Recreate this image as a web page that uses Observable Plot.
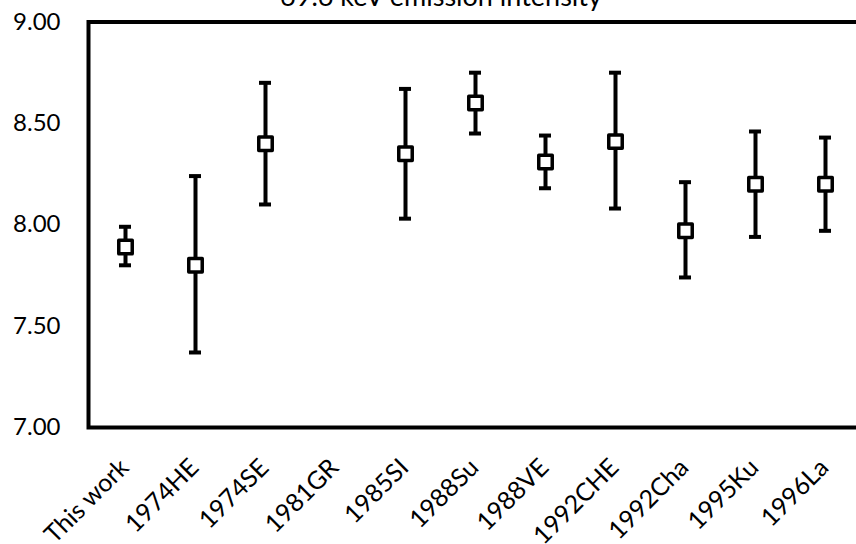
<!DOCTYPE html>
<html>
<head>
<meta charset="utf-8">
<script src="https://cdn.jsdelivr.net/npm/d3@7"></script>
<script src="https://cdn.jsdelivr.net/npm/@observablehq/plot@0.6"></script>
<style>
  html, body { margin: 0; padding: 0; background: #fff; overflow: hidden; }
  #wrap { position: relative; width: 856px; height: 544px; overflow: hidden; }
  #title {
    position: absolute; left: 241px; width: 400px; top: -21px;
    text-align: center; font-family: Lato, sans-serif; font-size: 27px; color: #000;
    white-space: nowrap;
  }
  #chart { position: absolute; left: 0; top: 0; }
  #chart svg { max-width: none !important; }
</style>
</head>
<body>
<div id="wrap">
  <div id="chart"></div>
  <div id="title">69.6 keV emission intensity</div>
</div>
<script>
// Measured 69.6 keV emission intensity by source, with uncertainty ranges
const sources = ["This work", "1974HE", "1974SE", "1981GR", "1985SI", "1988Su",
                 "1988VE", "1992CHE", "1992Cha", "1995Ku", "1996La"];
const intensity = [7.89, 7.80, 8.40, null, 8.35, 8.60, 8.31, 8.41, 7.97, 8.20, 8.20];
const lower     = [7.80, 7.37, 8.10, null, 8.03, 8.45, 8.18, 8.08, 7.74, 7.94, 7.97];
const upper     = [7.99, 8.24, 8.70, null, 8.67, 8.75, 8.44, 8.75, 8.21, 8.46, 8.43];
const yTicks = [7.0, 7.5, 8.0, 8.5, 9.0];

const rows = sources
  .map((source, i) => ({source, value: intensity[i], lo: lower[i], hi: upper[i]}))
  .filter(d => d.value != null);

const chart = Plot.plot({
  width: 880,
  height: 544,
  marginLeft: 88,
  marginRight: 19,
  marginTop: 21.5,
  marginBottom: 117,
  style: {fontFamily: "Lato, sans-serif", fontSize: "24px", color: "#000", background: "#fff", maxWidth: "none"},
  x: {type: "band", domain: sources, padding: 0, label: null},
  y: {domain: [7, 9], label: null},
  marks: [
    Plot.axisY({ticks: yTicks, tickFormat: d3.format(".2f"), tickSize: 0, tickPadding: 28,
                fontSize: 24, label: null}),
    Plot.axisX({tickRotate: -45, tickSize: 0, tickPadding: 36, dx: -1, fontSize: 25, label: null}),
    // error bars
    Plot.ruleX(rows, {x: "source", y1: "lo", y2: "hi", stroke: "#000", strokeWidth: 4}),
    Plot.tickY(rows, {x: "source", y: "lo", stroke: "#000", strokeWidth: 4, insetLeft: 29, insetRight: 29}),
    Plot.tickY(rows, {x: "source", y: "hi", stroke: "#000", strokeWidth: 4, insetLeft: 29, insetRight: 29}),
    // point markers
    Plot.dot(rows, {x: "source", y: "value", symbol: "square", r: 7.6, fill: "#fff",
                    stroke: "#000", strokeWidth: 3.5, strokeLinejoin: "round"}),
    Plot.frame({stroke: "#000", strokeWidth: 4})
  ]
});
document.getElementById("chart").appendChild(chart);
</script>
</body>
</html>
